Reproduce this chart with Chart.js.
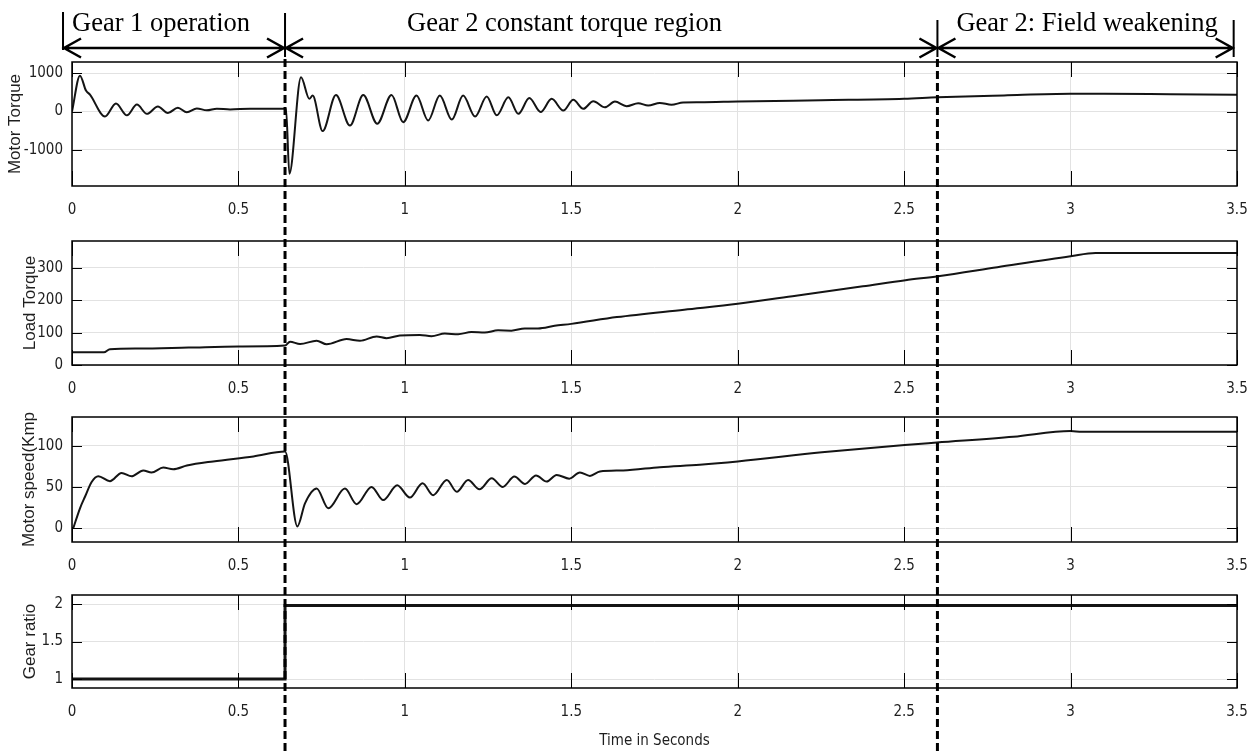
<!DOCTYPE html>
<html>
<head>
<meta charset="utf-8">
<script src="https://cdn.jsdelivr.net/npm/chart.js@4.4.1/dist/chart.umd.min.js"></script>
<style>
  html, body { margin: 0; padding: 0; background: #fff; }
  #wrap { position: relative; width: 1255px; height: 751px; overflow: hidden; }
  canvas { position: absolute; left: 0; }
  #overlay { top: 0; z-index: 5; pointer-events: none; }
</style>
</head>
<body>
<div id="wrap">
  <canvas id="torque" width="1255" height="222" style="top:0px"></canvas>
  <canvas id="load" width="1255" height="178" style="top:222px"></canvas>
  <canvas id="speed" width="1255" height="180" style="top:400px"></canvas>
  <canvas id="gear" width="1255" height="171" style="top:580px"></canvas>
  <canvas id="overlay" width="1255" height="751"></canvas>
</div>
<script>
// time axis (s)
const timeTicks = [0, 0.5, 1, 1.5, 2, 2.5, 3, 3.5];

// motor torque
const torqueTime = [0, 0.024, 0.042, 0.054, 0.099, 0.132, 0.165, 0.195, 0.225, 0.258, 0.288, 0.318, 0.345, 0.375,
  0.405, 0.435, 0.475, 0.535, 0.6, 0.643, 0.653, 0.688, 0.713, 0.723, 0.753, 0.793, 0.835, 0.875, 0.917, 0.96,
  0.995, 1.035, 1.07, 1.105, 1.141, 1.175, 1.211, 1.246, 1.276, 1.311, 1.341, 1.374, 1.408, 1.441, 1.476, 1.506,
  1.536, 1.566, 1.601, 1.631, 1.666, 1.701, 1.731, 1.766, 1.801, 1.836, 1.886, 2.0, 2.25, 2.5, 2.6, 2.8, 3.0,
  3.1, 3.3, 3.5];
const torqueValues = [0, 935, 545, 440, -130, 210, -100, 180, -60, 130, -40, 100, -20, 80,
  30, 75, 55, 70, 70, 70, -1620, 890, 330, 415, -510, 430, -365, 430, -320, 430,
  -280, 415, -235, 415, -210, 415, -130, 390, -100, 370, -60, 350, -15, 330, 25, 305,
  70, 270, 110, 260, 140, 215, 155, 225, 175, 235, 240, 260, 295, 330, 370, 420, 460,
  460, 450, 440];
const torqueTicks = [-1000, 0, 1000];

// load torque
const loadTime = [0, 0.096, 0.114, 0.2, 0.35, 0.5, 0.64, 0.655, 0.685, 0.735, 0.765, 0.825, 0.865, 0.915, 0.945,
  0.985, 1.045, 1.08, 1.12, 1.16, 1.2, 1.24, 1.28, 1.32, 1.36, 1.4, 1.45, 1.5, 1.637, 1.839, 2.0, 2.175, 2.376,
  2.504, 2.602, 2.78, 3.0, 3.075, 3.5];
const loadValues = [39, 39, 49, 51, 54, 57, 60, 72, 65, 75, 64, 80, 75, 88, 83,
  91, 93, 89, 97, 95, 102, 100, 107, 106, 113, 113, 121, 127, 148, 171, 189, 214, 243,
  262, 274, 302, 336, 346, 346];
const loadTicks = [0, 100, 200, 300];

// motor speed
const speedTime = [0.004, 0.024, 0.039, 0.059, 0.079, 0.114, 0.149, 0.179, 0.214, 0.239, 0.274, 0.304, 0.345,
  0.424, 0.545, 0.64, 0.677, 0.7, 0.735, 0.77, 0.82, 0.855, 0.9, 0.935, 0.977, 1.015, 1.053, 1.085, 1.126,
  1.156, 1.19, 1.224, 1.261, 1.294, 1.329, 1.361, 1.394, 1.426, 1.456, 1.494, 1.526, 1.556, 1.586, 1.656,
  1.766, 1.886, 2.0, 2.253, 2.502, 2.598, 2.828, 3.0, 3.034, 3.5];
const speedValues = [0, 24, 38, 56, 63, 57, 67, 63, 70, 67.5, 73.5, 71.5, 76,
  81, 87, 93, 2, 30, 48, 24, 48, 29, 50, 34, 52, 37, 54.5, 40, 58.5,
  44, 58.5, 47, 60.5, 50, 62.5, 53.6, 64, 56.5, 64.6, 60, 67.5, 63.4, 68.7, 70,
  74, 77, 81, 92, 101, 104, 111, 118, 117, 117];
const speedTicks = [0, 50, 100];

// gear ratio
const gearTime = [0, 0.64, 0.64, 3.5];
const gearValues = [1, 1, 1.98, 1.98];
const gearTicks = [1, 1.5, 2];

// region markers
const switchTimes = [0.64, 2.6];
const regionBounds = [-0.027, 0.64, 2.6, 3.49];
const regionLabels = ["Gear 1 operation", "Gear 2 constant torque region", "Gear 2: Field weakening"];

const tickFont = { family: '"DejaVu Sans Condensed", "Liberation Sans", Arial, sans-serif', size: 15 };
const titleFont = { family: '"Liberation Sans", Arial, sans-serif', size: 17 };

// box + inward tick marks, matlab style
const frame = {
  id: 'frame',
  afterDatasetsDraw(chart) {
    const { ctx, chartArea: a, scales: { x, y } } = chart;
    ctx.save();
    ctx.strokeStyle = '#000';
    ctx.lineWidth = 1;
    ctx.beginPath();
    x.ticks.forEach(t => {
      const px = Math.round(x.getPixelForValue(t.value)) + 0.5;
      ctx.moveTo(px, a.top); ctx.lineTo(px, a.top + 15);
      ctx.moveTo(px, a.bottom); ctx.lineTo(px, a.bottom - 15);
    });
    y.ticks.forEach(t => {
      const py = Math.round(y.getPixelForValue(t.value)) + 0.5;
      ctx.moveTo(a.left, py); ctx.lineTo(a.left + 10, py);
      ctx.moveTo(a.right, py); ctx.lineTo(a.right - 10, py);
    });
    ctx.stroke();
    ctx.lineWidth = 1.5;
    ctx.strokeRect(a.left, a.top, a.width, a.height);
    ctx.restore();
  }
};

function makePanel(id, p) {
  const pts = p.time.map((t, i) => ({ x: t, y: p.values[i] }));
  return new Chart(document.getElementById(id), {
    type: 'line',
    data: {
      datasets: [{
        data: pts,
        borderColor: '#141414',
        borderWidth: p.lineWidth || 2,
        pointRadius: 0,
        cubicInterpolationMode: p.straight ? 'default' : 'monotone',
        tension: 0,
      }],
    },
    options: {
      responsive: false,
      animation: false,
      events: [],
      devicePixelRatio: 1,
      layout: { padding: { left: 0, right: 18, top: p.padTop, bottom: 0 } },
      plugins: { legend: { display: false }, tooltip: { enabled: false } },
      scales: {
        x: {
          type: 'linear',
          min: 0,
          max: 3.5,
          afterBuildTicks: (s) => { s.ticks = timeTicks.map(v => ({ value: v })); },
          afterFit: (s) => { s.height = p.axisHeight; s.paddingLeft = 0; s.paddingRight = 0; },
          ticks: { font: tickFont, color: '#1e1e1e', padding: 15, maxRotation: 0, callback: (v) => String(v) },
          grid: { color: '#e2e2e2', drawTicks: false },
          border: { display: false },
          title: p.xTitle
            ? { display: true, text: p.xTitle, font: { family: tickFont.family, size: 15 }, color: '#1e1e1e', padding: { top: 0, bottom: 1 } }
            : { display: false },
        },
        y: {
          min: p.yMin,
          max: p.yMax,
          afterBuildTicks: (s) => { s.ticks = p.yTicks.map(v => ({ value: v })); },
          afterFit: (s) => { s.width = 72; s.paddingTop = 0; s.paddingBottom = 0; },
          ticks: { font: tickFont, color: '#1e1e1e', padding: 9, callback: (v) => String(v) },
          grid: { color: '#e2e2e2', drawTicks: false },
          border: { display: false },
          title: { display: true, text: p.title, font: titleFont, color: '#1e1e1e', padding: { top: p.titlePad, bottom: 0 } },
        },
      },
    },
    plugins: [frame],
  });
}

// title padding puts the rotated label centre at x = pad + lineHeight/2
makePanel('torque', {
  time: torqueTime, values: torqueValues, yMin: -1940, yMax: 1290, yTicks: torqueTicks,
  title: 'Motor Torque', titlePad: 4.8, padTop: 62, axisHeight: 36,
});
makePanel('load', {
  time: loadTime, values: loadValues, yMin: 0, yMax: 383, yTicks: loadTicks,
  title: 'Load Torque', titlePad: 19.8, padTop: 19, axisHeight: 35,
});
makePanel('speed', {
  time: speedTime, values: speedValues, yMin: -17, yMax: 135, yTicks: speedTicks,
  title: 'Motor speed(Kmp', titlePad: 19.5, padTop: 17, axisHeight: 38,
});
makePanel('gear', {
  time: gearTime, values: gearValues, yMin: 0.88, yMax: 2.12, yTicks: gearTicks,
  title: 'Gear ratio', titlePad: 20, padTop: 15, axisHeight: 63, xTitle: 'Time in Seconds',
  straight: true, lineWidth: 3,
});

// arrows, brackets and region captions across the top
const regions = {
  id: 'regions',
  afterDraw(chart) {
    const { ctx, scales: { x } } = chart;
    const px = regionBounds.map(v => x.getPixelForValue(v));
    const barTop = [12, 13, 20, 20], barBottom = [50, 57, 57, 57];
    const ay = 48;
    ctx.save();
    ctx.strokeStyle = '#000';
    ctx.lineWidth = 2;
    ctx.beginPath();
    px.forEach((p, i) => { ctx.moveTo(p, barTop[i]); ctx.lineTo(p, barBottom[i]); });
    ctx.stroke();
    ctx.lineWidth = 2.5;
    for (let i = 0; i < 3; i++) {
      const x0 = px[i] + 1, x1 = px[i + 1] - 1;
      ctx.beginPath();
      ctx.moveTo(x0, ay); ctx.lineTo(x1, ay);
      ctx.moveTo(x0 + 17, ay - 9.5); ctx.lineTo(x0, ay); ctx.lineTo(x0 + 17, ay + 9.5);
      ctx.moveTo(x1 - 17, ay - 9.5); ctx.lineTo(x1, ay); ctx.lineTo(x1 - 17, ay + 9.5);
      ctx.stroke();
    }
    ctx.font = '26.5px "Liberation Serif", "Times New Roman", serif';
    ctx.fillStyle = '#000';
    ctx.textBaseline = 'alphabetic';
    const offs = [9, 122, 19];
    regionLabels.forEach((s, i) => ctx.fillText(s, px[i] + offs[i], 31));
    ctx.restore();
  }
};

new Chart(document.getElementById('overlay'), {
  type: 'line',
  data: {
    datasets: switchTimes.map(t => ({
      data: [{ x: t, y: 0 }, { x: t, y: 1 }],
      borderColor: '#000',
      borderWidth: 3,
      borderDash: [8, 4],
      pointRadius: 0,
    })),
  },
  options: {
    responsive: false,
    animation: false,
    events: [],
    devicePixelRatio: 1,
    layout: { padding: { left: 72, right: 18, top: 55, bottom: 0 } },
    plugins: { legend: { display: false }, tooltip: { enabled: false } },
    scales: {
      x: { type: 'linear', min: 0, max: 3.5, display: false },
      y: { min: 0, max: 1, display: false },
    },
  },
  plugins: [regions],
});
</script>
</body>
</html>
